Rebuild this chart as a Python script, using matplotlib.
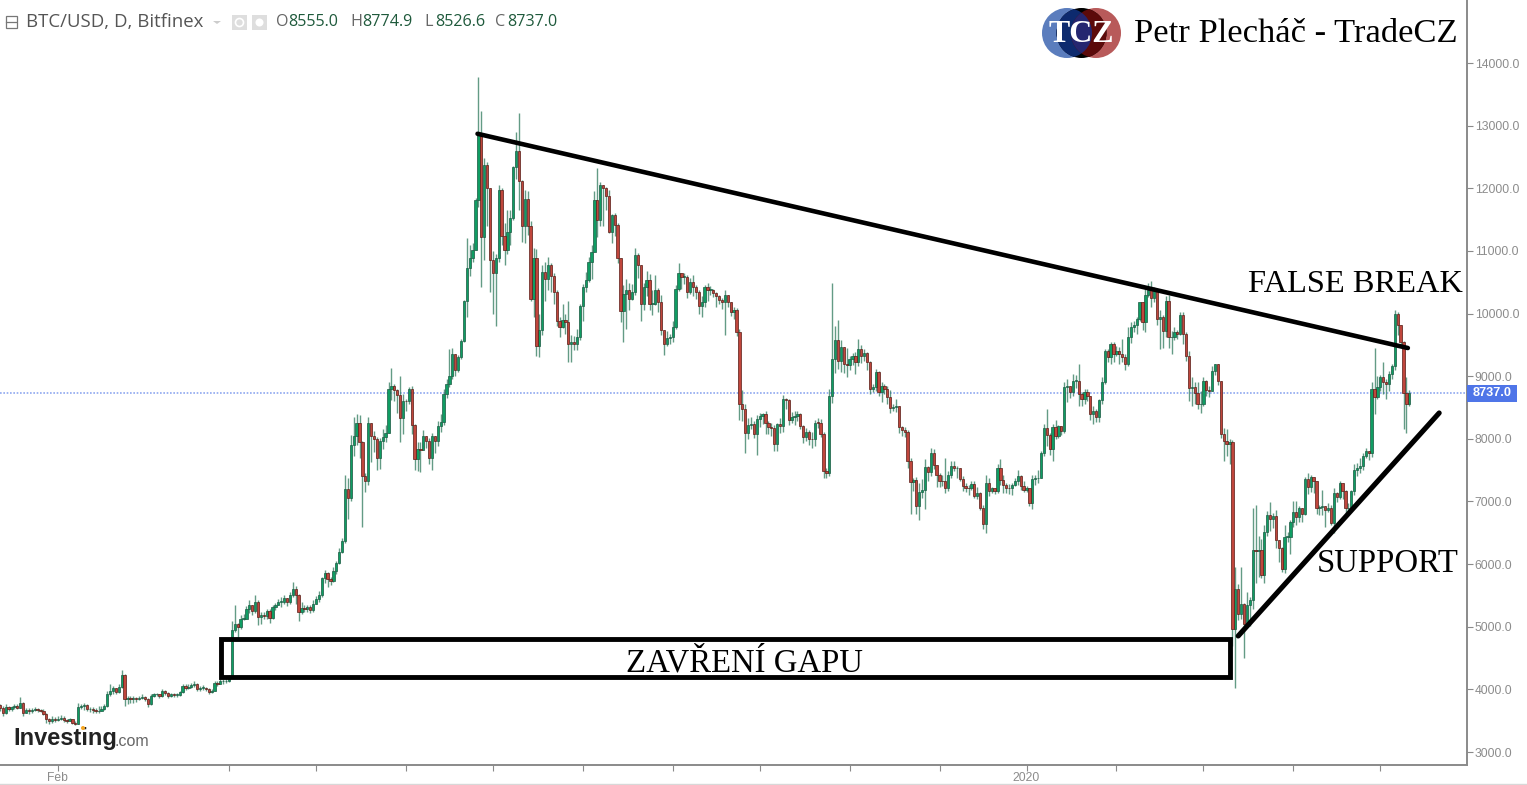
import numpy as np
import pandas as pd
import matplotlib
matplotlib.use("Agg")
import matplotlib.pyplot as plt
import matplotlib.dates as mdates
from matplotlib.patches import Rectangle, Ellipse, Polygon

start_date = "2019-01-11"
month_names = ["19-01","19-02","19-03","19-04","19-05","19-06","19-07","19-08","19-09","19-10","19-11","19-12","20-01","20-02","20-03","20-04","20-05"]
first_open = 3740
closes = [
[3750,3700,3620,3720,3680,3720,3740,3710,3780,3630,3670,3660,3670,3680,3670,3660,3610,3520,3490,3530,3510],
[3530,3550,3510,3500,3520,3470,3450,3720,3730,3750,3680,3680,3670,3650,3660,3680,3730,3920,3980,4020,3960,4040,4230,3850,3860,3840,3860,3840],
[3870,3880,3840,3760,3900,3920,3930,3900,3980,3950,3900,3920,3910,3910,3960,4060,4020,4040,4070,4090,4010,4020,4030,4010,3960,3980,4100,4090,4130,4130,4140],
[4190,4950,5040,5000,5120,5130,5280,5340,5250,5400,5160,5180,5170,5250,5140,5310,5350,5400,5400,5460,5400,5500,5600,5500,5240,5300,5290,5310,5260,5360],
[5440,5510,5780,5860,5760,5730,5890,6020,6190,6370,7200,7050,7900,8050,8250,7950,7400,7320,8250,8050,8000,7700,7960,8030,8100,8800,8850,8780,8700,8330,8610],
[8600,8790,8220,7680,7840,7820,8040,7960,7690,8040,7960,8210,8270,8720,8880,9000,9350,9100,9300,9560,10200,10720,10880,11020,11820,12870,11220,12370,12000,10860],
[10650,10880,11980,11240,11020,11300,11520,12340,12600,12120,11400,11830,11400,10230,10880,9480,9740,10660,10550,10780,10600,10350,9880,9790,9900,9870,9520,9550,9520,9620,10120],
[10420,10540,10830,10990,11820,11500,12050,12010,11880,11310,11570,11410,10880,10040,10320,10370,10240,10340,10930,10770,10150,10420,10540,10150,10160,10380,10180,9730,9510,9610,9620],
[9790,10400,10640,10590,10590,10340,10500,10420,10340,10120,10180,10420,10380,10380,10330,10280,10210,10180,10300,10190,10020,10050,9710,8560,8470,8100,8220,8230,8080,8320],
[8360,8400,8260,8190,8180,7910,8240,8210,8630,8620,8300,8350,8370,8400,8200,8030,8110,8000,7990,8260,8250,8070,7490,7460,8690,9280,9570,9250,9460,9200,9180],
[9270,9320,9220,9430,9330,9370,9220,8800,8830,9060,8740,8850,8800,8660,8490,8510,8520,8190,8140,8110,7640,7310,7340,6930,7150,7180,7550,7470,7770,7580],
[7430,7330,7320,7220,7420,7560,7530,7540,7360,7240,7220,7210,7280,7090,7130,6900,6640,7300,7170,7220,7170,7530,7340,7270,7220,7210,7270,7320,7410,7240,7190],
[7210,6980,7360,7370,7380,7770,8170,8060,7830,8190,8040,8200,8130,8830,8840,8740,8920,8920,8720,8640,8740,8680,8400,8450,8350,8620,8910,9410,9310,9520,9360],
[9400,9350,9310,9190,9630,9780,9820,9920,10180,9870,10300,10370,10250,10380,9920,9950,9720,10200,9620,9620,9710,9680,9980,9680,9330,8810,8830,8730,8550],
[8550,8920,8780,8770,9090,9190,8920,8070,7960,7910,7950,4970,5600,5200,5370,5040,5340,5420,6220,6210,6220,5830,6510,6790,6720,6770,6390,6260,5920,6430,6440],
[6680,6830,6760,6890,6800,7360,7230,7390,7320,6900,6910,6930,6870,6900,6660,7130,7070,7290,7160,6890,6890,7160,7510,7530,7570,7730,7800,7770,8800,8660],
[8830,8980,8900,8880,9040,9170,9990,9820,9550,8730,8555,8737],
]
highs = [
[3800,3770,3730,3760,3740,3740,3770,3760,3880,3800,3700,3700,3700,3720,3700,3690,3680,3620,3540,3570,3560],
[3570,3590,3570,3530,3540,3530,3490,3780,3770,3790,3760,3720,3720,3700,3730,3730,3770,3980,4090,4050,4020,4090,4310,4240,3890,3900,3900,3880],
[3900,3920,3890,3860,3930,3950,3950,3930,4010,3990,3960,3950,3940,3950,3980,4090,4080,4090,4100,4130,4100,4060,4070,4040,4020,4010,4140,4130,4170,4170,4180],
[4230,5090,5350,5060,5180,5200,5330,5420,5350,5500,5420,5230,5230,5290,5290,5340,5380,5440,5480,5500,5460,5550,5720,5650,5520,5390,5350,5350,5340,5430],
[5490,5570,5800,5910,5880,5800,5960,6050,6250,6420,7420,7370,8060,8350,8400,8380,7960,7450,8350,8220,8120,8030,8020,8160,8220,8900,9130,8880,8800,9000,8720],
[8640,8830,8850,8240,7950,7950,8140,8040,8010,8100,8040,8280,8400,8790,8950,9430,9450,9350,9340,9600,10220,11200,11100,11120,11850,13770,13230,12480,12420,12000],
[11000,10950,12050,12000,11450,11650,11650,12350,12900,13200,12130,11980,11950,11470,11050,11030,9990,10780,10830,10900,10800,10650,10370,9950,10150,9990,10200,9650,9640,9760,10150],
[10470,10660,10900,11090,11950,12320,12100,12060,12020,11980,11590,11600,11450,10890,10450,10550,10480,10470,11050,10970,10780,10480,10680,10630,10380,10620,10410,10300,9730,9720,9680],
[9880,10450,10800,10650,10650,10620,10560,10620,10450,10370,10280,10460,10480,10440,10400,10350,10290,10250,10380,10300,10180,10100,10090,9750,8780,8550,8330,8350,8280,8380],
[8420,8420,8450,8290,8260,8220,8260,8340,8700,8650,8640,8430,8450,8450,8420,8220,8180,8140,8110,8300,8330,8320,8110,7540,8790,10490,9800,9900,9570,9460,9450],
[9320,9370,9380,9600,9500,9440,9380,9250,8870,9120,9080,8900,8870,8840,8780,8550,8630,8530,8200,8190,8140,7700,7370,7390,7300,7360,7680,7560,7860,7830],
[7500,7450,7420,7700,7480,7650,7640,7560,7490,7400,7290,7260,7320,7320,7230,7150,6950,7430,7380,7230,7220,7600,7680,7430,7300,7280,7300,7370,7500,7420,7320],
[7250,7220,7420,7420,7510,7800,8230,8470,8100,8230,8300,8220,8200,8900,8950,8850,9030,9020,9200,8750,8790,8800,8680,8530,8480,8640,8980,9430,9440,9550,9550],
[9480,9470,9600,9360,9780,9860,9880,9950,10190,10190,10390,10490,10520,10430,10400,10060,9980,10280,10290,9720,9780,9730,10020,10020,9710,9410,8990,8900,8900],
[8770,8980,8940,8850,9170,9200,9200,8920,8180,8150,7990,7980,5950,5680,5950,5380,5550,5470,6900,6950,6450,6400,6620,6850,6990,6810,6870,6290,6270,6620,6520],
[6700,7000,7000,6930,6890,7390,7460,7420,7380,7330,6950,7190,6910,6980,6950,7210,7150,7320,7240,7180,6980,7180,7600,7620,7690,7770,7860,7800,8900,9450],
[9000,9020,9220,8950,9080,9200,10050,10030,9600,9560,8980,8774.9],
]
lows = [
[3700,3650,3570,3610,3650,3650,3690,3680,3700,3570,3620,3600,3620,3650,3640,3640,3590,3470,3450,3470,3480],
[3500,3510,3480,3470,3490,3440,3430,3440,3690,3670,3650,3640,3630,3620,3630,3650,3670,3720,3890,3930,3930,3950,4020,3730,3760,3790,3790,3800],
[3830,3850,3810,3720,3750,3880,3890,3860,3880,3910,3870,3880,3880,3880,3900,3950,3990,4000,4020,4040,3980,3980,3990,3980,3930,3940,3970,4060,4080,4090,4100],
[4120,4180,4920,4810,4960,5100,5130,5220,5180,5220,5030,5050,5120,5130,5060,5130,5270,5340,5310,5360,5330,5360,5480,5360,5090,5200,5230,5240,5220,5240],
[5370,5390,5480,5700,5640,5660,5710,5850,6000,6170,6340,6720,7000,7720,7900,7700,6600,7150,7260,7630,7790,7500,7520,7840,7950,8090,8620,8600,8420,7950,8070],
[8450,8560,8070,7500,7480,7470,7830,7850,7600,7510,7770,7880,8110,8220,8650,8820,8950,9000,9060,9270,9550,9950,10600,10830,11030,11700,10430,10850,11400,10350],
[10000,9800,10830,11100,10780,10950,11100,11500,12150,11650,11150,11120,11250,10200,9950,9320,9300,9650,10200,10380,10350,10150,9800,9620,9770,9680,9230,9220,9420,9420,9570],
[9880,10340,10510,10550,10980,11230,11400,11400,11660,11280,11120,11240,10800,9870,9550,9750,10060,10220,10300,10560,9880,10050,10280,10060,9980,10140,10030,9650,9340,9480,9510],
[9540,9760,10360,10400,10470,10250,10320,10280,10240,10000,9950,10110,10200,10300,10260,10110,10150,10080,9650,10100,9960,9920,9640,8300,8280,7780,8000,8150,8010,7750],
[8190,8230,8070,8080,8050,7800,7800,8090,8110,8470,8220,8260,8220,8290,8150,7930,7960,7900,7860,7880,8170,8030,7380,7370,7410,8570,9050,9120,9060,9050,8990],
[9100,9180,9040,9170,9210,9250,9100,8710,8750,8760,8690,8590,8720,8560,8420,8450,8430,8100,8040,8030,7530,6800,7170,6800,6700,7060,6880,7330,7400,7520],
[7230,7230,7250,7130,7160,7380,7480,7380,7330,7170,7150,7100,7190,7060,7040,6870,6560,6500,7080,7130,7120,7130,7270,7140,7130,7120,7110,7240,7270,7190,7150],
[7150,6930,6880,7270,7300,7370,7720,7890,7750,7650,7990,8010,8060,8090,8590,8650,8690,8810,8520,8530,8560,8600,8300,8240,8270,8270,8560,8880,9220,9190,9230],
[9320,9200,9230,9100,9170,9530,9700,9680,9880,9730,9700,10270,10100,10190,9810,9430,9450,9620,9450,9360,9580,9590,9650,9520,9250,8600,8530,8550,8480],
[8420,8520,8680,8660,8760,9020,8860,8020,7650,7730,7600,4700,4020,5100,5130,4500,4990,5020,5290,5700,5800,5780,5700,6450,6530,6580,6260,6040,5870,5860,6350],
[6160,6600,6620,6670,6680,6780,7120,7150,7140,6800,6780,6780,6590,6830,6630,6490,6990,7040,7040,6780,6790,6840,7100,7410,7460,7500,7700,7670,7710,8400],
[8630,8770,8710,8640,8760,8950,9100,9660,9490,8160,8100,8526.6],
]
for name, c, h, l in zip(month_names, closes, highs, lows):
    if not (len(c) == len(h) == len(l)):
        raise SystemExit(f"{name}: {len(c)} {len(h)} {len(l)}")

y_ticks = [3000,4000,5000,6000,7000,8000,9000,10000,11000,12000,13000,14000]
month_ticks = ["2019-02-01","2019-04-01","2019-05-01","2019-06-01","2019-07-01","2019-08-01","2019-09-01","2019-10-01","2019-11-01","2019-12-02","2020-01-01","2020-02-01","2020-03-02","2020-04-02","2020-05-02"]
month_labels = ["Feb","","","","","","","","","","2020","","","",""]
last_price = 8737.0

c = np.concatenate(closes).astype(float)
h = np.concatenate(highs).astype(float)
l = np.concatenate(lows).astype(float)
o = np.r_[first_open, c[:-1]]
h = np.maximum(h, np.maximum(o, c))
l = np.minimum(l, np.minimum(o, c))
dates = mdates.date2num(pd.date_range(start_date, periods=len(c)).to_pydatetime())

W, H = 1527, 785
fig = plt.figure(figsize=(W/100, H/100), dpi=100, facecolor="white")
ax = fig.add_axes([0, 20/H, 1467/W, 765/H])
ppd = 0.06264
ax.set_ylim(14000-(765-63)/ppd, 14000+63/ppd)
d0 = mdates.date2num(pd.Timestamp("2019-04-01"))
ax.set_xlim(d0-229/2.9, d0+(1467-229)/2.9)

up = c >= o
GREEN, RED = "#0f9d63", "#c0463c"
ax.vlines(dates, l, h, colors="#2f7a5c", linewidth=1.0, alpha=0.75, zorder=2)
bot = np.minimum(o, c)
ht = np.maximum(np.abs(c-o), 12)
ax.bar(dates[up], ht[up], bottom=bot[up], width=0.78, color=GREEN, edgecolor="#1c5a43", linewidth=0.5, zorder=3)
ax.bar(dates[~up], ht[~up], bottom=bot[~up], width=0.78, color=RED, edgecolor="#5a1c16", linewidth=0.5, zorder=3)

ax.axhline(last_price, color="#8fa8f0", linewidth=1.2, linestyle=(0, (1, 1)), zorder=1)

# drawings over the price chart
ax.plot([d0+85.7, d0+406.5], [12870, 9450], color="black", lw=3.3, solid_capstyle="round", zorder=5)
ax.plot([d0+348, d0+417.3], [4853, 8413], color="black", lw=3.7, solid_capstyle="round", zorder=5)
ax.add_patch(Rectangle((d0-2.93, 4198), 348.2, 607, fill=False, edgecolor="black", lw=3.5, joinstyle="miter", zorder=5))
ax.text(d0+177.6, 4420, "ZAVŘENÍ GAPU", family="Liberation Serif", fontsize=23.6, color="black", ha="center", va="center", zorder=6)
ax.text(d0+(1355.5-229)/2.9, 10470, "FALSE BREAK", family="Liberation Serif", fontsize=23.4, color="black", ha="center", va="center", zorder=6)
ax.text(d0+(1388-229)/2.9, 6010, "SUPPORT", family="Liberation Serif", fontsize=23.6, color="black", ha="center", va="center", zorder=6)

# axes
for s in ["top", "left"]:
    ax.spines[s].set_visible(False)
for s in ["right", "bottom"]:
    ax.spines[s].set_color("#8a8a8a")
    ax.spines[s].set_linewidth(1.4)
ax.yaxis.tick_right()
ax.set_yticks(y_ticks)
ax.set_yticklabels([f"{v:.1f}" for v in y_ticks], family="Liberation Sans", fontsize=8.7, color="#8c8c8c")
ax.tick_params(axis="y", length=4, width=0.8, color="#8a8a8a", pad=1.5)
ax.set_xticks(mdates.date2num(pd.to_datetime(month_ticks).to_pydatetime()))
ax.set_xticklabels(month_labels, family="Liberation Sans", fontsize=8.7, color="#8c8c8c")
ax.tick_params(axis="x", length=4, width=0.8, color="#8a8a8a", pad=1)

# overlay in pixel coordinates for chrome
ov = fig.add_axes([0, 0, 1, 1], facecolor="none")
ov.set_xlim(0, W); ov.set_ylim(H, 0); ov.axis("off")
ov.add_patch(Rectangle((1467, 385), 50, 17, facecolor="#4f75e8", edgecolor="none"))
ov.text(1492, 393.5, f"{last_price:.1f}", family="Liberation Sans", fontsize=9.2, fontweight="bold", color="white", ha="center", va="center")
ov.plot([0, W], [784, 784], color="#d8d8d8", lw=1)

# header
ov.add_patch(Rectangle((5.5, 15.5), 11, 12, facecolor="white", edgecolor="#777777", lw=0.9))
ov.plot([6, 16], [21.5, 21.5], color="#777777", lw=0.9)
ov.text(26, 22, "BTC/USD, D, Bitfinex", family="Open Sans", fontsize=13.4, color="#555555", va="center")
ov.add_patch(Polygon([[213, 21], [221, 21], [217, 24]], facecolor="#cccccc", edgecolor="none"))
for x0 in (232, 252):
    ov.add_patch(Rectangle((x0, 15), 15, 15, facecolor="#dedede", edgecolor="none"))
ov.add_patch(Ellipse((239.5, 22.5), 8, 8, facecolor="none", edgecolor="white", lw=1.2))
ov.add_patch(Ellipse((259.5, 22.5), 8, 8, facecolor="white", edgecolor="none"))
for lx, vx, lab, val in [(276, 288, "O", "8555.0"), (350, 362, "H", "8774.9"), (424, 435, "L", "8526.6"), (495, 507, "C", "8737.0")]:
    ov.text(lx, 22, lab, family="Open Sans", fontsize=11.6, color="#666666", va="center")
    ov.text(vx, 22, val, family="Open Sans", fontsize=11.6, color="#1f5a3c", va="center")

# author mark
blue = Ellipse((1067, 33), 50, 50, facecolor="#5b7dbd", edgecolor="none", zorder=2)
red = Ellipse((1096, 33), 50, 50, facecolor="#b85a5a", edgecolor="none", zorder=2)
mid = Ellipse((1081.5, 33), 50, 50, facecolor="black", edgecolor="none", zorder=3)
navy = Ellipse((1067, 33), 50, 50, facecolor="#0d2a6e", edgecolor="none", zorder=4)
maroon = Ellipse((1096, 33), 50, 50, facecolor="#5c0a0a", edgecolor="none", zorder=4)
lens = Ellipse((1067, 33), 50, 50, facecolor="#252670", edgecolor="none", zorder=5)
for p in (blue, red, mid, navy, maroon, lens):
    ov.add_patch(p)
navy.set_clip_path(mid)
maroon.set_clip_path(mid)
lens.set_clip_path(red)
ov.text(1081, 35, "TCZ", family="Liberation Serif", fontweight="bold", fontsize=23, color="white", ha="center", va="center", zorder=6)
ov.text(1134, 34, "Petr Plecháč - TradeCZ", family="Liberation Serif", fontsize=24.8, color="black", va="center", zorder=6)

# data-provider mark
ov.text(13.5, 738, "Investing", family="Liberation Sans", fontweight="bold", fontsize=17, color="#222222", va="center")
ov.text(115, 741, ".com", family="Liberation Sans", fontsize=11.5, color="#666666", va="center")
ov.add_patch(Ellipse((83, 728), 4, 4, facecolor="#f5a623", edgecolor="none", zorder=6))

fig.savefig("out.png", dpi=100)
